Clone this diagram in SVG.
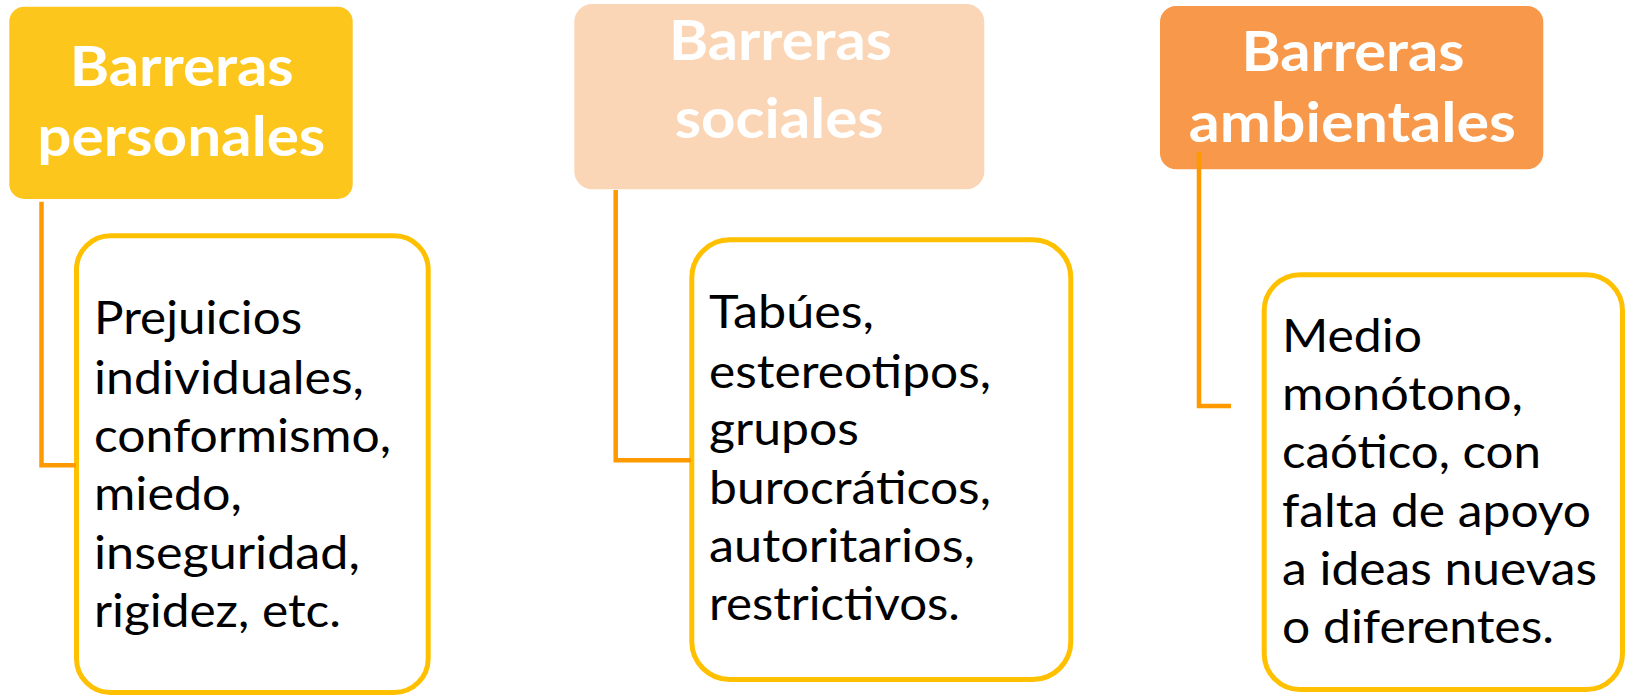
<svg xmlns="http://www.w3.org/2000/svg" width="1626" height="697" viewBox="0 0 1626 697">
<style>
.hdr-text{font-family:Lato,"Open Sans","Liberation Sans",sans-serif;font-weight:700;font-size:56px;fill:#FFFFFF;text-anchor:middle}
.body-text{font-family:Lato,"Open Sans","Liberation Sans",sans-serif;font-weight:400;font-size:45.6px;fill:#000000}
.body-box{fill:#FFFFFF;stroke:#FFC000;stroke-width:5}
.conn{fill:none;stroke:#FF9900;stroke-width:4.5;stroke-linejoin:miter;stroke-linecap:butt}
</style>
<rect width="1626" height="697" fill="#FFFFFF"/>
<g id="body-personales">
<rect class="body-box" x="76.5" y="235.8" width="351.7" height="456.7" rx="34"/>
<text class="body-text" lengthAdjust="spacingAndGlyphs" x="94" y="334.3" textLength="208">Prejuicios</text>
<text class="body-text" lengthAdjust="spacingAndGlyphs" x="94" y="393.7" textLength="270">individuales,</text>
<text class="body-text" lengthAdjust="spacingAndGlyphs" x="94" y="452" textLength="297">conformismo,</text>
<text class="body-text" lengthAdjust="spacingAndGlyphs" x="94" y="510.3" textLength="148">miedo,</text>
<text class="body-text" lengthAdjust="spacingAndGlyphs" x="94" y="568.7" textLength="266">inseguridad,</text>
<text class="body-text" lengthAdjust="spacingAndGlyphs" x="94" y="627" textLength="247">rigidez, etc.</text>
</g>
<g id="body-sociales">
<rect class="body-box" x="691.8" y="239.8" width="379" height="439.7" rx="38"/>
<text class="body-text" lengthAdjust="spacingAndGlyphs" x="709" y="328.3" textLength="165">Tabúes,</text>
<text class="body-text" lengthAdjust="spacingAndGlyphs" x="709" y="387.7" textLength="282">estereotipos,</text>
<text class="body-text" lengthAdjust="spacingAndGlyphs" x="709" y="445.3" textLength="150">grupos</text>
<text class="body-text" lengthAdjust="spacingAndGlyphs" x="709" y="503.7" textLength="282">burocráticos,</text>
<text class="body-text" lengthAdjust="spacingAndGlyphs" x="709" y="562" textLength="266">autoritarios,</text>
<text class="body-text" lengthAdjust="spacingAndGlyphs" x="709" y="620.3" textLength="251">restrictivos.</text>
</g>
<g id="body-ambientales">
<rect class="body-box" x="1264.2" y="274.8" width="358.3" height="414.7" rx="36"/>
<text class="body-text" lengthAdjust="spacingAndGlyphs" x="1282" y="352" textLength="140">Medio</text>
<text class="body-text" lengthAdjust="spacingAndGlyphs" x="1282" y="410.3" textLength="241">monótono,</text>
<text class="body-text" lengthAdjust="spacingAndGlyphs" x="1282" y="467.7" textLength="259">caótico, con</text>
<text class="body-text" lengthAdjust="spacingAndGlyphs" x="1282" y="527" textLength="309">falta de apoyo</text>
<text class="body-text" lengthAdjust="spacingAndGlyphs" x="1282" y="585.3" textLength="315">a ideas nuevas</text>
<text class="body-text" lengthAdjust="spacingAndGlyphs" x="1282" y="643" textLength="272">o diferentes.</text>
</g>
<g id="header-personales">
<rect x="9.3" y="6.7" width="343.4" height="192.3" rx="15" fill="#FDC61D"/>
<text class="hdr-text" lengthAdjust="spacingAndGlyphs" x="181.7" y="85.7" textLength="224">Barreras</text>
<text class="hdr-text" lengthAdjust="spacingAndGlyphs" x="181.3" y="155.7" textLength="288">personales</text>
</g>
<g id="header-sociales">
<rect x="574.3" y="4" width="410" height="185.3" rx="18" fill="#FBD6B6"/>
<text class="hdr-text" lengthAdjust="spacingAndGlyphs" x="780.5" y="60" textLength="223">Barreras</text>
<text class="hdr-text" lengthAdjust="spacingAndGlyphs" x="779.2" y="138.3" textLength="209">sociales</text>
</g>
<g id="header-ambientales">
<rect x="1160" y="6" width="383.3" height="163.3" rx="16" fill="#F7984A"/>
<text class="hdr-text" lengthAdjust="spacingAndGlyphs" x="1353" y="70.7" textLength="223">Barreras</text>
<text class="hdr-text" lengthAdjust="spacingAndGlyphs" x="1352.3" y="141.7" textLength="327">ambientales</text>
</g>
<g id="connectors">
<path class="conn" d="M41.5,201.7 V465.3 H76"/>
<path class="conn" d="M615.7,190 V460.3 H691"/>
<path class="conn" d="M1199,151.7 V406 H1231"/>
</g>
</svg>
